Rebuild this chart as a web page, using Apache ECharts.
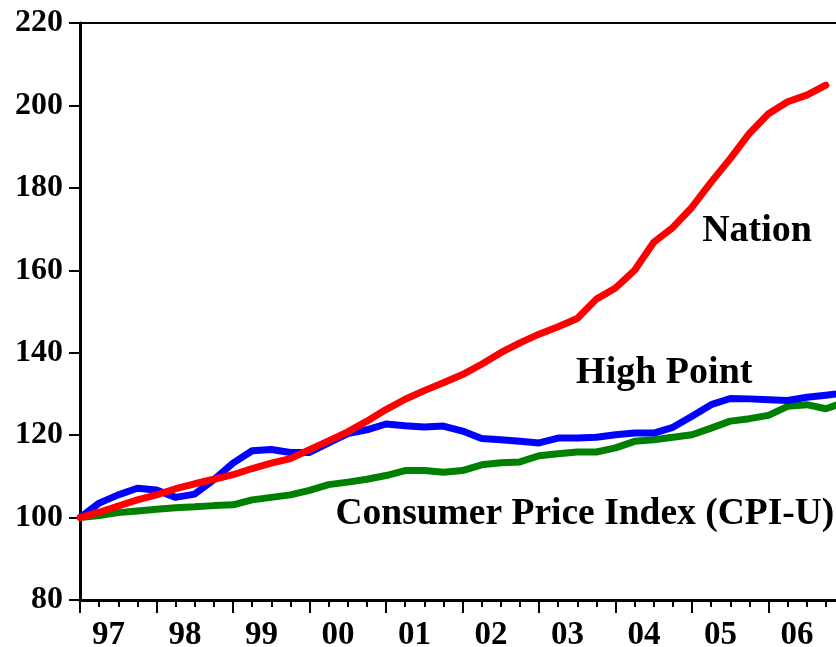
<!DOCTYPE html>
<html lang="en">
<head>
<meta charset="UTF-8">
<title>Nation vs High Point vs CPI-U</title>
<script src="https://cdn.jsdelivr.net/npm/echarts@6/dist/echarts.min.js"></script>
<style>
  html, body { margin: 0; padding: 0; background: #fff; }
  #chart { width: 836px; height: 647px; }
</style>
</head>
<body>
<div id="chart"></div>
<script>
  // quarterly index values, 1997 Q1 = 100 (x = quarter number from 1997 Q1)
  let yearLabels = ['97', '98', '99', '00', '01', '02', '03', '04', '05', '06'];
  let nation = [100, 101.3, 102.8, 104.3, 105.5, 107, 108.2, 109.3, 110.4, 111.9,
    113.2, 114.3, 116.5, 118.6, 120.8, 123.4, 126.2, 128.7, 130.8, 132.7,
    134.7, 137.2, 140, 142.4, 144.5, 146.3, 148.3, 153, 155.7, 160,
    166.8, 170.4, 175.3, 181.4, 187.1, 193.2, 198, 200.9, 202.5, 204.9];
  let highPoint = [100, 103.5, 105.5, 107.1, 106.7, 104.9, 105.7, 109.2, 113.2, 116.2,
    116.5, 115.8, 115.8, 118.1, 120.4, 121.3, 122.7, 122.3, 122, 122.2,
    121, 119.2, 118.9, 118.5, 118.1, 119.3, 119.3, 119.5, 120.1, 120.5,
    120.5, 121.9, 124.6, 127.4, 128.9, 128.8, 128.6, 128.4, 129.2, 129.7, 130.2];
  let cpi = [100, 100.5, 101.2, 101.6, 102, 102.4, 102.6, 102.9, 103.1, 104.3,
    104.9, 105.5, 106.6, 108, 108.6, 109.3, 110.2, 111.4, 111.4, 111,
    111.4, 112.8, 113.3, 113.5, 115, 115.5, 115.9, 115.9, 116.9, 118.5,
    118.9, 119.5, 120.1, 121.7, 123.4, 124, 124.8, 127, 127.4, 126.4, 128];

  let toPairs = arr => arr.map((v, i) => [i, v]);

  let serif = "'Liberation Serif', 'Times New Roman', serif";

  let tag = (x, y, text, size) => ({
    symbol: 'rect',
    symbolSize: 1,
    silent: true,
    itemStyle: { color: 'rgba(0,0,0,0)' },
    label: {
      show: true,
      position: 'inside',
      formatter: text,
      color: '#000',
      fontFamily: serif,
      fontWeight: 'bold',
      fontSize: size
    },
    data: [{ coord: [x, y] }]
  });

  var myChart = echarts.init(document.getElementById('chart'));

  myChart.setOption({
    animation: false,
    grid: {
      left: 80,
      top: 23,
      width: 765,
      height: 577,
      outerBoundsMode: 'none',
      show: true,
      borderColor: '#000',
      borderWidth: 2
    },
    xAxis: {
      type: 'value',
      min: 0,
      max: 40,
      interval: 4,
      splitLine: { show: false },
      axisLine: { show: true, onZero: false, lineStyle: { color: '#000', width: 3 } },
      axisTick: { show: true, length: 13, lineStyle: { color: '#000', width: 2 } },
      minorTick: { show: true, splitNumber: 4, length: 7, lineStyle: { color: '#000', width: 2 } },
      axisLabel: {
        show: true,
        margin: 19,
        color: '#000',
        fontFamily: serif,
        fontWeight: 'bold',
        fontSize: 33,
        align: 'center',
        padding: [0, 0, 0, 57],
        showMaxLabel: false,
        formatter: v => yearLabels[v / 4] || ''
      }
    },
    yAxis: {
      type: 'value',
      min: 80,
      max: 220,
      interval: 20,
      splitLine: { show: false },
      axisLine: { show: true, lineStyle: { color: '#000', width: 3 } },
      axisTick: { show: true, length: 11, lineStyle: { color: '#000', width: 2 } },
      axisLabel: {
        margin: 17,
        color: '#000',
        fontFamily: serif,
        fontWeight: 'bold',
        fontSize: 32
      }
    },
    series: [
      {
        name: 'Consumer Price Index (CPI-U)',
        type: 'line',
        data: toPairs(cpi),
        showSymbol: false,
        lineStyle: { color: '#008000', width: 7 },
        z: 2,
        markPoint: tag(26.4, 100.7, 'Consumer Price Index (CPI-U)', 37.5)
      },
      {
        name: 'High Point',
        type: 'line',
        data: toPairs(highPoint),
        showSymbol: false,
        lineStyle: { color: '#0000ff', width: 7 },
        z: 3,
        markPoint: tag(30.55, 135.1, 'High Point', 38)
      },
      {
        name: 'Nation',
        type: 'line',
        data: toPairs(nation),
        showSymbol: false,
        lineStyle: { color: '#ff0000', width: 7, cap: 'round' },
        z: 4,
        markPoint: tag(35.4, 169.4, 'Nation', 38)
      }
    ]
  });
</script>
</body>
</html>
